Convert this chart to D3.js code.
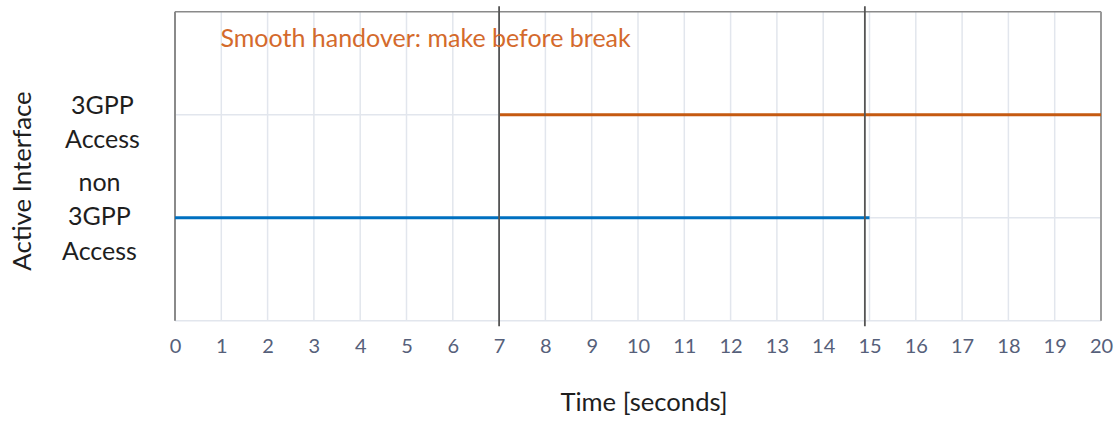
<!DOCTYPE html>
<html>
<head>
<meta charset="utf-8">
<script src="https://cdn.jsdelivr.net/npm/d3@7"></script>
<style>
  html, body { margin: 0; padding: 0; background: #fff; }
  svg { display: block; }
  text { font-family: Lato, "Open Sans", sans-serif; }
</style>
</head>
<body>
<svg id="chart" width="1116" height="421"></svg>
<script>
// Time axis ticks (seconds)
const xTicks = d3.range(0, 21);
// Interface levels and their wrapped labels
const levels = [1, 2];
const levelLabels = [["non", "3GPP", "Access"], ["3GPP", "Access"]];
// Active periods of each interface: [time, level]
const nonThreeGppSeries = [[0, 1], [15, 1]];
const threeGppSeries = [[7, 2], [20, 2]];
// Handover markers (seconds)
const markers = [7, 14.9];
const title = "Smooth handover: make before break";

const svg = d3.select("#chart");
const plotLeft = 175, plotRight = 1101, plotTop = 11.7, plotBottom = 320.7;

const x = d3.scaleLinear().domain([0, 20]).range([plotLeft, plotRight]);
const y = d3.scaleLinear().domain([0, 3]).range([plotBottom, plotTop]);

// vertical gridlines
svg.append("g")
  .selectAll("line").data(xTicks).join("line")
  .attr("x1", d => x(d)).attr("x2", d => x(d))
  .attr("y1", plotTop).attr("y2", plotBottom)
  .attr("stroke", "#e2e6ed").attr("stroke-width", 1.5);

// horizontal gridlines (including baseline)
svg.append("g")
  .selectAll("line").data([0, 1, 2]).join("line")
  .attr("x1", plotLeft).attr("x2", plotRight)
  .attr("y1", d => y(d)).attr("y2", d => y(d))
  .attr("stroke", "#e2e6ed").attr("stroke-width", 1.5);

// frame: left, top, right
svg.append("line").attr("x1", plotLeft).attr("x2", plotLeft).attr("y1", plotTop).attr("y2", plotBottom)
  .attr("stroke", "#8a8a8a").attr("stroke-width", 2);
svg.append("line").attr("x1", plotLeft).attr("x2", plotRight).attr("y1", plotTop).attr("y2", plotTop)
  .attr("stroke", "#8a8a8a").attr("stroke-width", 1.5);
svg.append("line").attr("x1", plotRight).attr("x2", plotRight).attr("y1", plotTop).attr("y2", plotBottom)
  .attr("stroke", "#9a9a9a").attr("stroke-width", 2);

// x axis tick labels
const xAxis = d3.axisBottom(x).tickValues(xTicks).tickSize(0).tickPadding(0).tickFormat(d3.format("d"));
const gx = svg.append("g").attr("transform", `translate(0,${plotBottom})`).call(xAxis);
gx.select(".domain").remove();
gx.selectAll("text")
  .attr("y", 32.6).attr("dy", 0)
  .attr("fill", "#56607a")
  .style("font-size", "20px")
  .style("font-family", "Lato, 'Open Sans', sans-serif");

// y axis wrapped labels (baseline offsets from each level's gridline)
const labelOffsets = [[-26.5, 7.5, 42], [-0.5, 33.5]];
const labelCenters = [99.5, 102.5];
const yl = svg.append("g");
levels.forEach((lv, i) => {
  const t = yl.append("text")
    .attr("x", labelCenters[i])
    .attr("text-anchor", "middle")
    .attr("fill", "#1e1e1e")
    .style("font-size", "25px");
  levelLabels[i].forEach((line, j) => {
    t.append("tspan")
      .attr("x", labelCenters[i])
      .attr("y", y(lv) + labelOffsets[i][j])
      .text(line);
  });
});

// series lines
const line = d3.line().x(d => x(d[0])).y(d => y(d[1]));
svg.append("path").datum(nonThreeGppSeries)
  .attr("d", line).attr("fill", "none")
  .attr("stroke", "#0070c0").attr("stroke-width", 3);
svg.append("path").datum(threeGppSeries)
  .attr("d", line).attr("fill", "none")
  .attr("stroke", "#c55a11").attr("stroke-width", 3);

// handover markers
svg.append("g")
  .selectAll("line").data(markers).join("line")
  .attr("x1", d => x(d)).attr("x2", d => x(d))
  .attr("y1", plotTop - 5.5).attr("y2", plotBottom + 5.5)
  .attr("stroke", "#555").attr("stroke-width", 1.8);

// annotation
svg.append("text")
  .attr("x", 220.5).attr("y", 47.3)
  .attr("fill", "#d46a2c")
  .style("font-size", "25px")
  .text(title);

// axis titles
svg.append("text")
  .attr("x", 644).attr("y", 410.7)
  .attr("text-anchor", "middle")
  .attr("fill", "#1e1e1e")
  .style("font-size", "25.6px")
  .text("Time [seconds]");

svg.append("text")
  .attr("transform", `translate(31,181) rotate(-90)`)
  .attr("text-anchor", "middle")
  .attr("fill", "#1e1e1e")
  .style("font-size", "25.8px")
  .text("Active Interface");
</script>
</body>
</html>
